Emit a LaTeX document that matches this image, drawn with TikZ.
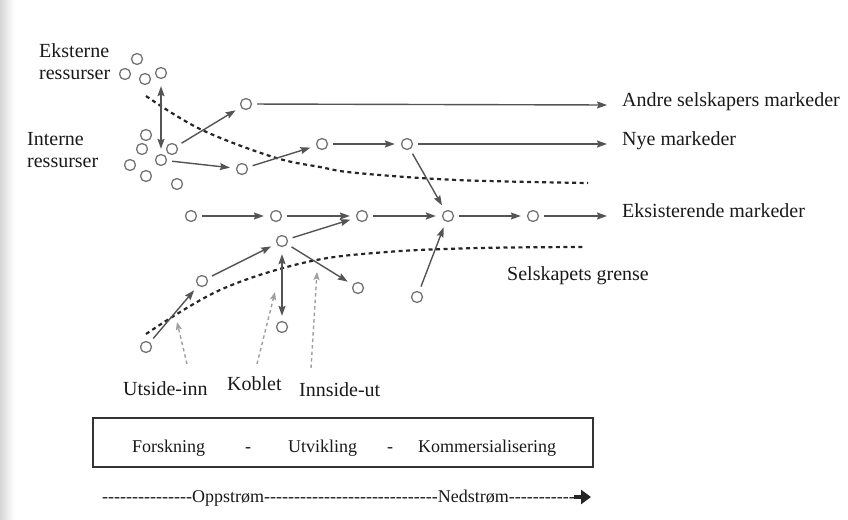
\documentclass[tikz,border=0pt]{standalone}
\usepackage{fontspec}
\setmainfont{Liberation Serif}
\usetikzlibrary{arrows.meta}
\definecolor{dotgray}{gray}{0.45}
\definecolor{arrowgray}{gray}{0.33}
\definecolor{txt}{gray}{0.1}
\tikzset{
  dot/.style={circle,draw=dotgray,line width=1.3pt,minimum size=11pt,inner sep=0pt},
  tip/.style={-{Stealth[length=10pt,width=7pt,inset=1.5pt]}},
  flow/.style={draw=arrowgray,line width=1.4pt,tip,shorten <=5pt,shorten >=6pt},
  flowend/.style={draw=arrowgray,line width=1.4pt,tip,shorten <=5pt},
  both/.style={draw=arrowgray,line width=1.4pt,{Stealth[length=10pt,width=7pt,inset=1.5pt]}-{Stealth[length=10pt,width=7pt,inset=1.5pt]},shorten <=7pt,shorten >=5pt},
  boundary/.style={draw=black!85,line width=2.2pt,dash pattern=on 4pt off 3.5pt},
  hint/.style={draw=gray!75,line width=1.4pt,dash pattern=on 3.5pt off 3pt,-{Stealth[length=8pt,width=6pt,inset=1.5pt]}},
  lab/.style={anchor=base west,inner sep=0pt,text=txt,font=\fontsize{20}{24}\selectfont},
  btxt/.style={inner sep=0pt,text=txt,font=\fontsize{18}{22}\selectfont},
}
\begin{document}
\begin{tikzpicture}[x=1pt,y=-1pt]
\useasboundingbox (0,0) rectangle (848,519);
\shade[left color=black!16,right color=white] (0,0) rectangle (14,519);

% resources
\node[dot] (e1) at (137,59) {};
\node[dot] (e2) at (125,74) {};
\node[dot] (e3) at (145,79) {};
\node[dot] (e4) at (161,73) {};
\node[dot] (i1) at (146,135) {};
\node[dot] (i2) at (142,149) {};
\node[dot] (i3) at (172,149) {};
\node[dot] (i4) at (161,160) {};
\node[dot] (i5) at (130,165) {};
\node[dot] (i6) at (146,176) {};
\node[dot] (i7) at (177,184) {};

\node[dot] (t1) at (246,104) {};
\node[dot] (m1) at (242,169) {};
\node[dot] (n1) at (322,144) {};
\node[dot] (n2) at (407,144) {};
\node[dot] (x1) at (191,216) {};
\node[dot] (x2) at (276,216) {};
\node[dot] (x3) at (362,216) {};
\node[dot] (x4) at (448,216) {};
\node[dot] (x5) at (533,216) {};
\node[dot] (c) at (282,241) {};
\node[dot] (b) at (202,281) {};
\node[dot] (a) at (146,347) {};
\node[dot] (d) at (358,288) {};
\node[dot] (k) at (282,327) {};
\node[dot] (f) at (417,297) {};

\coordinate (tEnd) at (607,105);
\coordinate (nEnd) at (607,144);
\coordinate (xEnd) at (607,216);

% boundaries
\draw[boundary] plot[smooth,tension=0.6] coordinates {(146,96) (200,129) (273,157) (320,167) (357,173) (457,180) (588,183)};
\draw[boundary] plot[smooth,tension=0.6] coordinates {(146,334) (220,290) (307,262) (387,252) (480,248) (585,247)};

% arrows
\draw[both] (e4) -- (i4);
\draw[both] (c) -- (k);
\draw[flow] (i3) -- (t1);
\draw[flow] (i4) -- (m1);
\draw[flow] (m1) -- (n1);
\draw[flow] (n1) -- (n2);
\draw[flow] (n2) -- (x4);
\draw[flow] (x1) -- (x2);
\draw[flow] (x2) -- (x3);
\draw[flow] (x3) -- (x4);
\draw[flow] (x4) -- (x5);
\draw[flow] (c) -- (x3);
\draw[flow] (b) -- (c);
\draw[flow] (a) -- (b);
\draw[flow] (c) -- (d);
\draw[flow] (f) -- (x4);
\draw[flowend] (t1) -- (tEnd);
\draw[flowend] (n2) -- (nEnd);
\draw[flowend] (x5) -- (xEnd);

% labels right
\node[lab] (l1) at (622,106) {Andre selskapers markeder};
\node[lab] (l2) at (622,145) {Nye markeder};
\node[lab] (l3) at (622,217) {Eksisterende markeder};
\node[lab] (l4) at (507,280) {Selskapets grense};

% labels left
\node[lab] (le1) at (39,57) {Eksterne};
\node[lab] (le2) at (39,79) {ressurser};
\node[lab] (li1) at (27,145) {Interne};
\node[lab] (li2) at (27,167) {ressurser};

% bottom labels
\node[lab] (u) at (123,395) {Utside-inn};
\node[lab] (ko) at (227,390) {Koblet};
\node[lab] (in) at (299,396) {Innside-ut};
\coordinate (uS) at (187,364);
\coordinate (uE) at (177,322);
\coordinate (kS) at (257,364);
\coordinate (kE) at (275,292);
\coordinate (iS) at (311,368);
\coordinate (iE) at (317,272);
\draw[hint] (uS) -- (uE);
\draw[hint] (kS) -- (kE);
\draw[hint] (iS) -- (iE);

% box
\node[draw=black!80,line width=1.3pt,minimum width=500pt,minimum height=49pt,inner sep=0pt] (box) at (343,442.5) {};
\node[btxt,anchor=base west] (bx1) at (132,452) {Forskning};
\node[btxt,anchor=base] (bx2) at (248,452) {-};
\node[btxt,anchor=base west] (bx3) at (288,452) {Utvikling};
\node[btxt,anchor=base] (bx4) at (390,452) {-};
\node[btxt,anchor=base west] (bx5) at (418,452) {Kommersialisering};

% stream line
\node[btxt,anchor=base west] (st) at (102,502) {\foreach \i in {1,...,15}{-{}}Oppstrøm\foreach \i in {1,...,29}{-{}}Nedstrøm\foreach \i in {1,...,11}{-{}}};
\coordinate (sA) at (574,497);
\coordinate (sB) at (591,497);
\draw[line width=4.5pt,black!85,-{Triangle[length=10pt,width=14pt]}] (sA) -- (sB);
\end{tikzpicture}
\end{document}
